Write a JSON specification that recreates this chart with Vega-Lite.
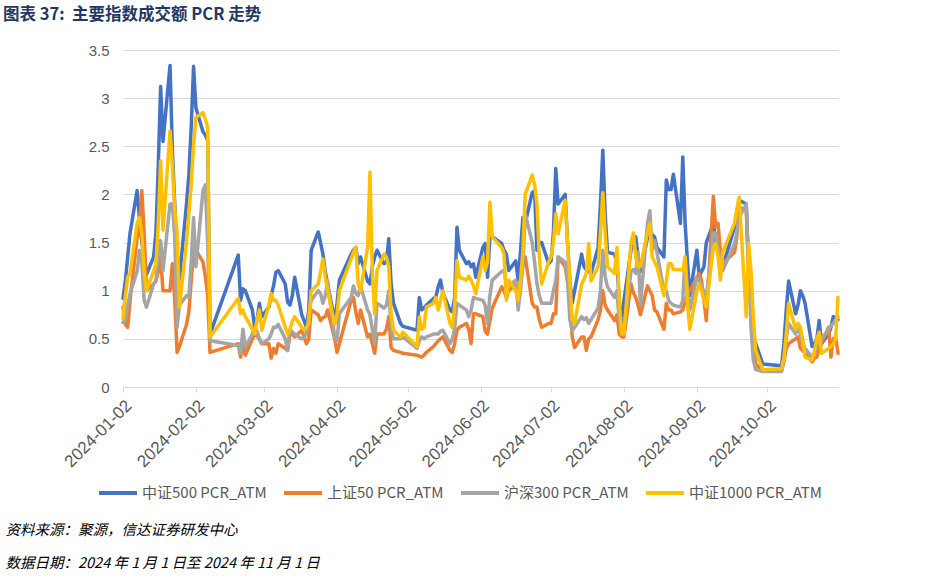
{
  "$schema": "https://vega.github.io/schema/vega-lite/v6.json",
  "width": 715,
  "height": 337,
  "autosize": {"type": "none"},
  "padding": {"left": 123, "top": 50, "right": 92, "bottom": 195},
  "background": "white",
  "title": {
    "text": "图表 37:\u00a0\u00a0主要指数成交额 PCR 走势",
    "anchor": "start",
    "frame": "group",
    "dx": -120,
    "dy": -20,
    "offset": 0,
    "fontSize": 16.5,
    "fontWeight": "bold",
    "color": "#1F3864",
    "font": "Noto Sans CJK SC"
  },
  "config": {"view": {"stroke": null}},
  "data": {"values": [
{"d":"2024-01-02","zz500":0.92,"sz50":0.83,"hs300":0.67,"zz1000":0.71},
{"d":"2024-01-03","zz500":1.1,"sz50":0.65,"hs300":0.7,"zz1000":0.95},
{"d":"2024-01-04","zz500":1.35,"sz50":0.62,"hs300":0.85,"zz1000":1.14},
{"d":"2024-01-05","zz500":1.6,"sz50":0.9,"hs300":0.97,"zz1000":1.18},
{"d":"2024-01-08","zz500":2.04,"sz50":1.55,"hs300":1.2,"zz1000":1.7},
{"d":"2024-01-09","zz500":1.75,"sz50":1.65,"hs300":1.42,"zz1000":1.76},
{"d":"2024-01-10","zz500":1.5,"sz50":2.04,"hs300":1.3,"zz1000":1.59},
{"d":"2024-01-11","zz500":1.35,"sz50":1.6,"hs300":0.9,"zz1000":1.2},
{"d":"2024-01-12","zz500":1.17,"sz50":1.0,"hs300":0.83,"zz1000":1.0},
{"d":"2024-01-15","zz500":1.35,"sz50":1.07,"hs300":1.07,"zz1000":1.2},
{"d":"2024-01-16","zz500":1.6,"sz50":1.1,"hs300":1.1,"zz1000":1.28},
{"d":"2024-01-17","zz500":2.3,"sz50":1.2,"hs300":1.4,"zz1000":1.7},
{"d":"2024-01-18","zz500":3.12,"sz50":1.35,"hs300":1.52,"zz1000":2.35},
{"d":"2024-01-19","zz500":2.55,"sz50":1.0,"hs300":1.21,"zz1000":1.63},
{"d":"2024-01-22","zz500":3.34,"sz50":1.0,"hs300":1.9,"zz1000":2.66},
{"d":"2024-01-23","zz500":2.45,"sz50":1.28,"hs300":1.9,"zz1000":2.3},
{"d":"2024-01-24","zz500":1.9,"sz50":0.9,"hs300":1.56,"zz1000":1.85},
{"d":"2024-01-25","zz500":1.4,"sz50":0.36,"hs300":0.62,"zz1000":1.6},
{"d":"2024-01-26","zz500":1.12,"sz50":0.42,"hs300":0.85,"zz1000":0.83},
{"d":"2024-01-29","zz500":1.9,"sz50":0.65,"hs300":0.95,"zz1000":1.5},
{"d":"2024-01-30","zz500":2.2,"sz50":0.78,"hs300":0.93,"zz1000":1.8},
{"d":"2024-01-31","zz500":2.7,"sz50":1.1,"hs300":1.3,"zz1000":2.1},
{"d":"2024-02-01","zz500":3.33,"sz50":1.42,"hs300":1.76,"zz1000":2.51},
{"d":"2024-02-02","zz500":2.9,"sz50":1.42,"hs300":1.25,"zz1000":2.8},
{"d":"2024-02-05","zz500":2.65,"sz50":1.3,"hs300":2.04,"zz1000":2.85},
{"d":"2024-02-06","zz500":2.62,"sz50":1.15,"hs300":2.1,"zz1000":2.78},
{"d":"2024-02-07","zz500":2.56,"sz50":0.95,"hs300":1.5,"zz1000":2.7},
{"d":"2024-02-08","zz500":0.55,"sz50":0.36,"hs300":0.48,"zz1000":0.52},
{"d":"2024-02-20","zz500":1.37,"sz50":0.45,"hs300":0.43,"zz1000":0.92},
{"d":"2024-02-21","zz500":0.9,"sz50":0.31,"hs300":0.35,"zz1000":0.76},
{"d":"2024-02-22","zz500":1.02,"sz50":0.45,"hs300":0.6,"zz1000":0.8},
{"d":"2024-02-23","zz500":1.0,"sz50":0.33,"hs300":0.41,"zz1000":0.73},
{"d":"2024-02-26","zz500":0.8,"sz50":0.5,"hs300":0.55,"zz1000":0.6},
{"d":"2024-02-27","zz500":0.62,"sz50":0.55,"hs300":0.62,"zz1000":0.55},
{"d":"2024-02-28","zz500":0.7,"sz50":0.53,"hs300":0.58,"zz1000":0.7},
{"d":"2024-02-29","zz500":0.87,"sz50":0.5,"hs300":0.5,"zz1000":0.8},
{"d":"2024-03-01","zz500":0.73,"sz50":0.45,"hs300":0.45,"zz1000":0.59},
{"d":"2024-03-04","zz500":0.83,"sz50":0.45,"hs300":0.5,"zz1000":0.85},
{"d":"2024-03-05","zz500":0.95,"sz50":0.3,"hs300":0.55,"zz1000":0.97},
{"d":"2024-03-06","zz500":1.05,"sz50":0.4,"hs300":0.62,"zz1000":0.9},
{"d":"2024-03-07","zz500":1.19,"sz50":0.35,"hs300":0.62,"zz1000":0.9},
{"d":"2024-03-08","zz500":1.21,"sz50":0.45,"hs300":0.65,"zz1000":0.85},
{"d":"2024-03-11","zz500":1.07,"sz50":0.4,"hs300":0.5,"zz1000":0.62},
{"d":"2024-03-12","zz500":0.88,"sz50":0.38,"hs300":0.38,"zz1000":0.55},
{"d":"2024-03-13","zz500":0.85,"sz50":0.55,"hs300":0.6,"zz1000":0.6},
{"d":"2024-03-14","zz500":0.95,"sz50":0.55,"hs300":0.57,"zz1000":0.68},
{"d":"2024-03-15","zz500":1.14,"sz50":0.52,"hs300":0.55,"zz1000":0.73},
{"d":"2024-03-18","zz500":0.75,"sz50":0.59,"hs300":0.5,"zz1000":0.62},
{"d":"2024-03-19","zz500":0.69,"sz50":0.52,"hs300":0.52,"zz1000":0.59},
{"d":"2024-03-20","zz500":0.62,"sz50":0.45,"hs300":0.55,"zz1000":0.62},
{"d":"2024-03-21","zz500":0.8,"sz50":0.5,"hs300":0.75,"zz1000":0.66},
{"d":"2024-03-22","zz500":1.42,"sz50":0.8,"hs300":0.9,"zz1000":1.0},
{"d":"2024-03-25","zz500":1.61,"sz50":0.75,"hs300":1.0,"zz1000":1.07},
{"d":"2024-03-26","zz500":1.5,"sz50":0.69,"hs300":0.97,"zz1000":1.2},
{"d":"2024-03-27","zz500":1.38,"sz50":0.72,"hs300":0.87,"zz1000":1.33},
{"d":"2024-03-28","zz500":1.2,"sz50":0.73,"hs300":0.95,"zz1000":1.15},
{"d":"2024-03-29","zz500":1.07,"sz50":0.8,"hs300":1.1,"zz1000":1.0},
{"d":"2024-04-01","zz500":0.69,"sz50":0.5,"hs300":0.52,"zz1000":0.65},
{"d":"2024-04-02","zz500":0.87,"sz50":0.36,"hs300":0.48,"zz1000":0.75},
{"d":"2024-04-03","zz500":1.11,"sz50":0.45,"hs300":0.76,"zz1000":1.0},
{"d":"2024-04-08","zz500":1.38,"sz50":0.9,"hs300":0.93,"zz1000":1.33},
{"d":"2024-04-09","zz500":1.42,"sz50":0.93,"hs300":1.05,"zz1000":1.4},
{"d":"2024-04-10","zz500":1.45,"sz50":0.78,"hs300":0.97,"zz1000":1.45},
{"d":"2024-04-11","zz500":1.28,"sz50":0.66,"hs300":0.95,"zz1000":1.07},
{"d":"2024-04-12","zz500":1.35,"sz50":0.8,"hs300":1.05,"zz1000":1.0},
{"d":"2024-04-15","zz500":1.1,"sz50":0.52,"hs300":0.8,"zz1000":1.45},
{"d":"2024-04-16","zz500":1.07,"sz50":0.55,"hs300":0.75,"zz1000":2.23},
{"d":"2024-04-17","zz500":1.25,"sz50":0.45,"hs300":0.6,"zz1000":1.2},
{"d":"2024-04-18","zz500":1.35,"sz50":0.35,"hs300":0.45,"zz1000":0.76},
{"d":"2024-04-19","zz500":1.42,"sz50":0.55,"hs300":0.87,"zz1000":1.21},
{"d":"2024-04-22","zz500":1.28,"sz50":0.55,"hs300":0.82,"zz1000":1.38},
{"d":"2024-04-23","zz500":1.3,"sz50":0.6,"hs300":0.85,"zz1000":1.35},
{"d":"2024-04-24","zz500":1.54,"sz50":0.73,"hs300":1.0,"zz1000":1.25},
{"d":"2024-04-25","zz500":1.07,"sz50":0.41,"hs300":0.62,"zz1000":0.76},
{"d":"2024-04-26","zz500":0.87,"sz50":0.38,"hs300":0.5,"zz1000":0.59},
{"d":"2024-04-29","zz500":0.66,"sz50":0.36,"hs300":0.5,"zz1000":0.52},
{"d":"2024-04-30","zz500":0.63,"sz50":0.35,"hs300":0.52,"zz1000":0.57},
{"d":"2024-05-06","zz500":0.59,"sz50":0.33,"hs300":0.4,"zz1000":0.42},
{"d":"2024-05-07","zz500":0.93,"sz50":0.32,"hs300":0.48,"zz1000":0.73},
{"d":"2024-05-08","zz500":0.8,"sz50":0.31,"hs300":0.52,"zz1000":0.6},
{"d":"2024-05-09","zz500":0.82,"sz50":0.33,"hs300":0.5,"zz1000":0.62},
{"d":"2024-05-10","zz500":0.85,"sz50":0.36,"hs300":0.52,"zz1000":0.83},
{"d":"2024-05-13","zz500":0.92,"sz50":0.42,"hs300":0.55,"zz1000":0.87},
{"d":"2024-05-14","zz500":0.93,"sz50":0.45,"hs300":0.55,"zz1000":0.93},
{"d":"2024-05-15","zz500":1.04,"sz50":0.48,"hs300":0.55,"zz1000":0.8},
{"d":"2024-05-16","zz500":1.11,"sz50":0.5,"hs300":0.58,"zz1000":0.9},
{"d":"2024-05-17","zz500":0.98,"sz50":0.52,"hs300":0.59,"zz1000":1.0},
{"d":"2024-05-20","zz500":0.8,"sz50":0.38,"hs300":0.45,"zz1000":0.66},
{"d":"2024-05-21","zz500":0.78,"sz50":0.36,"hs300":0.5,"zz1000":0.62},
{"d":"2024-05-22","zz500":0.93,"sz50":0.45,"hs300":0.6,"zz1000":0.83},
{"d":"2024-05-23","zz500":1.66,"sz50":0.59,"hs300":0.87,"zz1000":1.31},
{"d":"2024-05-24","zz500":1.42,"sz50":0.62,"hs300":0.85,"zz1000":1.14},
{"d":"2024-05-27","zz500":1.28,"sz50":0.66,"hs300":0.8,"zz1000":1.11},
{"d":"2024-05-28","zz500":1.3,"sz50":0.6,"hs300":0.73,"zz1000":1.15},
{"d":"2024-05-29","zz500":1.25,"sz50":0.45,"hs300":0.8,"zz1000":1.11},
{"d":"2024-05-30","zz500":1.28,"sz50":0.76,"hs300":0.93,"zz1000":1.05},
{"d":"2024-05-31","zz500":1.14,"sz50":0.76,"hs300":0.92,"zz1000":0.97},
{"d":"2024-06-03","zz500":1.45,"sz50":0.73,"hs300":0.9,"zz1000":1.35},
{"d":"2024-06-04","zz500":1.49,"sz50":0.58,"hs300":0.85,"zz1000":1.21},
{"d":"2024-06-05","zz500":1.14,"sz50":0.55,"hs300":0.66,"zz1000":1.3},
{"d":"2024-06-06","zz500":1.56,"sz50":0.69,"hs300":0.95,"zz1000":1.92},
{"d":"2024-06-07","zz500":1.56,"sz50":0.82,"hs300":1.11,"zz1000":1.56},
{"d":"2024-06-11","zz500":1.49,"sz50":1.04,"hs300":1.2,"zz1000":1.45},
{"d":"2024-06-12","zz500":1.42,"sz50":1.0,"hs300":1.21,"zz1000":1.38},
{"d":"2024-06-13","zz500":1.38,"sz50":0.93,"hs300":1.07,"zz1000":0.9},
{"d":"2024-06-14","zz500":1.21,"sz50":1.0,"hs300":1.05,"zz1000":1.11},
{"d":"2024-06-17","zz500":1.31,"sz50":1.07,"hs300":1.11,"zz1000":1.0},
{"d":"2024-06-18","zz500":1.11,"sz50":1.0,"hs300":0.8,"zz1000":0.9},
{"d":"2024-06-19","zz500":1.4,"sz50":1.1,"hs300":1.0,"zz1000":1.1},
{"d":"2024-06-20","zz500":1.76,"sz50":1.28,"hs300":1.25,"zz1000":1.4},
{"d":"2024-06-21","zz500":1.7,"sz50":1.35,"hs300":1.8,"zz1000":2.0},
{"d":"2024-06-24","zz500":2.02,"sz50":0.87,"hs300":1.5,"zz1000":2.2},
{"d":"2024-06-25","zz500":2.04,"sz50":0.83,"hs300":1.3,"zz1000":2.1},
{"d":"2024-06-26","zz500":1.42,"sz50":0.83,"hs300":1.07,"zz1000":1.9},
{"d":"2024-06-27","zz500":1.5,"sz50":0.7,"hs300":0.95,"zz1000":1.35},
{"d":"2024-06-28","zz500":1.5,"sz50":0.62,"hs300":0.87,"zz1000":1.07},
{"d":"2024-07-01","zz500":1.28,"sz50":0.66,"hs300":0.87,"zz1000":1.3},
{"d":"2024-07-02","zz500":1.31,"sz50":0.66,"hs300":0.87,"zz1000":1.35},
{"d":"2024-07-03","zz500":1.6,"sz50":0.76,"hs300":1.0,"zz1000":1.5},
{"d":"2024-07-04","zz500":2.27,"sz50":0.76,"hs300":1.1,"zz1000":1.8},
{"d":"2024-07-05","zz500":1.9,"sz50":1.35,"hs300":1.35,"zz1000":1.59},
{"d":"2024-07-08","zz500":2.0,"sz50":1.25,"hs300":1.3,"zz1000":1.94},
{"d":"2024-07-09","zz500":1.5,"sz50":1.1,"hs300":1.11,"zz1000":1.5},
{"d":"2024-07-10","zz500":1.1,"sz50":0.9,"hs300":0.7,"zz1000":1.1},
{"d":"2024-07-11","zz500":0.87,"sz50":0.52,"hs300":0.59,"zz1000":0.7},
{"d":"2024-07-12","zz500":1.0,"sz50":0.41,"hs300":0.62,"zz1000":0.66},
{"d":"2024-07-15","zz500":1.38,"sz50":0.52,"hs300":0.73,"zz1000":1.07},
{"d":"2024-07-16","zz500":1.25,"sz50":0.52,"hs300":0.7,"zz1000":1.12},
{"d":"2024-07-17","zz500":1.22,"sz50":0.38,"hs300":0.72,"zz1000":1.18},
{"d":"2024-07-18","zz500":1.2,"sz50":0.5,"hs300":0.66,"zz1000":1.49},
{"d":"2024-07-19","zz500":1.18,"sz50":0.52,"hs300":0.7,"zz1000":1.1},
{"d":"2024-07-22","zz500":1.45,"sz50":0.7,"hs300":0.82,"zz1000":1.25},
{"d":"2024-07-23","zz500":1.9,"sz50":0.8,"hs300":1.0,"zz1000":1.6},
{"d":"2024-07-24","zz500":2.46,"sz50":1.0,"hs300":1.42,"zz1000":2.02},
{"d":"2024-07-25","zz500":1.8,"sz50":0.85,"hs300":1.15,"zz1000":1.6},
{"d":"2024-07-26","zz500":1.4,"sz50":0.8,"hs300":1.04,"zz1000":1.25},
{"d":"2024-07-29","zz500":1.38,"sz50":0.69,"hs300":0.93,"zz1000":1.18},
{"d":"2024-07-30","zz500":1.28,"sz50":0.75,"hs300":1.0,"zz1000":1.45},
{"d":"2024-07-31","zz500":0.9,"sz50":0.55,"hs300":0.7,"zz1000":0.9},
{"d":"2024-08-01","zz500":0.62,"sz50":0.52,"hs300":0.59,"zz1000":0.55},
{"d":"2024-08-02","zz500":0.9,"sz50":0.52,"hs300":0.62,"zz1000":0.55},
{"d":"2024-08-05","zz500":1.42,"sz50":1.07,"hs300":1.2,"zz1000":1.5},
{"d":"2024-08-06","zz500":1.5,"sz50":0.98,"hs300":1.22,"zz1000":1.6},
{"d":"2024-08-07","zz500":1.56,"sz50":0.93,"hs300":1.18,"zz1000":1.35},
{"d":"2024-08-08","zz500":1.35,"sz50":0.85,"hs300":1.4,"zz1000":1.25},
{"d":"2024-08-09","zz500":1.2,"sz50":0.75,"hs300":0.85,"zz1000":1.25},
{"d":"2024-08-12","zz500":1.55,"sz50":1.05,"hs300":1.7,"zz1000":1.6},
{"d":"2024-08-13","zz500":1.63,"sz50":1.0,"hs300":1.83,"zz1000":1.7},
{"d":"2024-08-14","zz500":1.58,"sz50":0.95,"hs300":1.42,"zz1000":1.35},
{"d":"2024-08-15","zz500":1.56,"sz50":0.8,"hs300":1.52,"zz1000":1.3},
{"d":"2024-08-16","zz500":1.45,"sz50":0.78,"hs300":1.4,"zz1000":1.25},
{"d":"2024-08-19","zz500":1.35,"sz50":0.6,"hs300":1.0,"zz1000":0.95},
{"d":"2024-08-20","zz500":2.15,"sz50":0.87,"hs300":1.0,"zz1000":1.1},
{"d":"2024-08-21","zz500":2.05,"sz50":0.8,"hs300":0.9,"zz1000":1.28},
{"d":"2024-08-22","zz500":2.05,"sz50":0.8,"hs300":0.87,"zz1000":1.28},
{"d":"2024-08-23","zz500":2.21,"sz50":0.76,"hs300":0.85,"zz1000":1.22},
{"d":"2024-08-26","zz500":1.7,"sz50":0.78,"hs300":0.83,"zz1000":1.22},
{"d":"2024-08-27","zz500":2.39,"sz50":0.8,"hs300":0.9,"zz1000":1.21},
{"d":"2024-08-28","zz500":1.7,"sz50":0.9,"hs300":1.35,"zz1000":1.35},
{"d":"2024-08-29","zz500":1.3,"sz50":0.95,"hs300":1.0,"zz1000":0.87},
{"d":"2024-08-30","zz500":0.95,"sz50":1.0,"hs300":0.8,"zz1000":0.6},
{"d":"2024-09-02","zz500":1.42,"sz50":1.14,"hs300":1.14,"zz1000":1.0},
{"d":"2024-09-03","zz500":1.14,"sz50":1.18,"hs300":1.1,"zz1000":1.07},
{"d":"2024-09-04","zz500":1.2,"sz50":1.1,"hs300":1.05,"zz1000":1.0},
{"d":"2024-09-05","zz500":1.25,"sz50":0.9,"hs300":0.98,"zz1000":0.9},
{"d":"2024-09-06","zz500":1.5,"sz50":0.69,"hs300":0.93,"zz1000":0.83},
{"d":"2024-09-09","zz500":1.7,"sz50":1.98,"hs300":1.6,"zz1000":1.45},
{"d":"2024-09-10","zz500":1.52,"sz50":1.66,"hs300":1.6,"zz1000":1.49},
{"d":"2024-09-11","zz500":1.42,"sz50":1.7,"hs300":1.42,"zz1000":1.35},
{"d":"2024-09-12","zz500":1.21,"sz50":1.4,"hs300":1.3,"zz1000":1.11},
{"d":"2024-09-13","zz500":1.25,"sz50":1.28,"hs300":1.21,"zz1000":1.4},
{"d":"2024-09-18","zz500":1.66,"sz50":1.4,"hs300":1.49,"zz1000":1.7},
{"d":"2024-09-19","zz500":1.8,"sz50":1.56,"hs300":1.6,"zz1000":1.85},
{"d":"2024-09-20","zz500":1.94,"sz50":1.87,"hs300":1.76,"zz1000":1.97},
{"d":"2024-09-23","zz500":1.9,"sz50":1.83,"hs300":1.9,"zz1000":0.73},
{"d":"2024-09-24","zz500":1.14,"sz50":1.3,"hs300":1.25,"zz1000":1.49},
{"d":"2024-09-25","zz500":1.14,"sz50":1.07,"hs300":0.62,"zz1000":1.21},
{"d":"2024-09-26","zz500":0.52,"sz50":0.45,"hs300":0.28,"zz1000":0.73},
{"d":"2024-09-27","zz500":0.45,"sz50":0.24,"hs300":0.18,"zz1000":0.38},
{"d":"2024-09-30","zz500":0.24,"sz50":0.17,"hs300":0.16,"zz1000":0.18},
{"d":"2024-10-08","zz500":0.22,"sz50":0.17,"hs300":0.16,"zz1000":0.19},
{"d":"2024-10-09","zz500":0.45,"sz50":0.26,"hs300":0.3,"zz1000":0.3},
{"d":"2024-10-10","zz500":0.8,"sz50":0.4,"hs300":0.5,"zz1000":0.55},
{"d":"2024-10-11","zz500":1.1,"sz50":0.45,"hs300":0.66,"zz1000":0.87},
{"d":"2024-10-14","zz500":0.76,"sz50":0.5,"hs300":0.55,"zz1000":0.6},
{"d":"2024-10-15","zz500":0.85,"sz50":0.52,"hs300":0.62,"zz1000":0.66},
{"d":"2024-10-16","zz500":1.0,"sz50":0.4,"hs300":0.55,"zz1000":0.62},
{"d":"2024-10-17","zz500":0.95,"sz50":0.38,"hs300":0.45,"zz1000":0.5},
{"d":"2024-10-18","zz500":0.87,"sz50":0.35,"hs300":0.4,"zz1000":0.31},
{"d":"2024-10-21","zz500":0.42,"sz50":0.26,"hs300":0.31,"zz1000":0.28},
{"d":"2024-10-22","zz500":0.45,"sz50":0.3,"hs300":0.35,"zz1000":0.38},
{"d":"2024-10-23","zz500":0.5,"sz50":0.31,"hs300":0.42,"zz1000":0.5},
{"d":"2024-10-24","zz500":0.69,"sz50":0.4,"hs300":0.47,"zz1000":0.57},
{"d":"2024-10-25","zz500":0.45,"sz50":0.45,"hs300":0.5,"zz1000":0.35},
{"d":"2024-10-28","zz500":0.55,"sz50":0.62,"hs300":0.6,"zz1000":0.4},
{"d":"2024-10-29","zz500":0.62,"sz50":0.31,"hs300":0.63,"zz1000":0.42},
{"d":"2024-10-30","zz500":0.73,"sz50":0.5,"hs300":0.66,"zz1000":0.45},
{"d":"2024-10-31","zz500":0.72,"sz50":0.52,"hs300":0.7,"zz1000":0.5},
{"d":"2024-11-01","zz500":0.7,"sz50":0.35,"hs300":0.73,"zz1000":0.93}
  ]},
  "transform": [{"fold": ["zz500", "sz50", "hs300", "zz1000"], "as": ["k", "v"]}],
  "mark": {"type": "line", "strokeWidth": 3.5, "strokeJoin": "round", "strokeCap": "round"},
  "encoding": {
    "x": {
      "field": "d",
      "type": "temporal",
      "scale": {
        "type": "utc",
        "domain": [{"year": 2024, "month": 1, "date": 2, "utc": true}, {"year": 2024, "month": 11, "date": 1, "utc": true}],
        "nice": false
      },
      "axis": {
        "values": [
          {"year": 2024, "month": 1, "date": 2, "utc": true},
          {"year": 2024, "month": 2, "date": 2, "utc": true},
          {"year": 2024, "month": 3, "date": 2, "utc": true},
          {"year": 2024, "month": 4, "date": 2, "utc": true},
          {"year": 2024, "month": 5, "date": 2, "utc": true},
          {"year": 2024, "month": 6, "date": 2, "utc": true},
          {"year": 2024, "month": 7, "date": 2, "utc": true},
          {"year": 2024, "month": 8, "date": 2, "utc": true},
          {"year": 2024, "month": 9, "date": 2, "utc": true},
          {"year": 2024, "month": 10, "date": 2, "utc": true}
        ],
        "format": "%Y-%m-%d",
        "labelAngle": -45,
        "labelOverlap": false,
        "labelFlush": false,
        "labelBound": false,
        "labelFont": "Liberation Sans",
        "labelFontSize": 17,
        "labelColor": "#595959",
        "labelPadding": 5,
        "grid": false,
        "domainColor": "#D9D9D9",
        "tickColor": "#D9D9D9",
        "tickSize": 5,
        "title": ["资料来源：聚源，信达证券研发中心", "数据日期：2024 年 1 月 1 日至 2024 年 11 月 1 日"],
        "titleX": -118,
        "titleY": 136,
        "titleAlign": "left",
        "titleAnchor": "start",
        "titleBaseline": "top",
        "titleAngle": 0,
        "titleFont": "Noto Sans CJK SC",
        "titleFontSize": 14.5,
        "titleFontStyle": "italic",
        "titleFontWeight": "normal",
        "titleColor": "#000000",
        "titleLineHeight": 33
      }
    },
    "y": {
      "field": "v",
      "type": "quantitative",
      "scale": {"domain": [0, 3.5], "nice": false, "zero": true},
      "axis": {
        "values": [0, 0.5, 1, 1.5, 2, 2.5, 3, 3.5],
        "format": "~g",
        "grid": true,
        "gridColor": "#D9D9D9",
        "domain": false,
        "ticks": false,
        "labelFont": "Liberation Sans",
        "labelFontSize": 15,
        "labelColor": "#595959",
        "labelPadding": 14,
        "title": null
      }
    },
    "color": {
      "field": "k",
      "type": "nominal",
      "scale": {
        "domain": ["zz500", "sz50", "hs300", "zz1000"],
        "range": ["#4472C4", "#ED7D31", "#A5A5A5", "#FFC000"]
      },
      "legend": {
        "orient": "none",
        "legendX": -26,
        "legendY": 422,
        "direction": "horizontal",
        "title": null,
        "symbolType": "stroke",
        "symbolSize": 1444,
        "symbolStrokeWidth": 4,
        "labelFont": "Noto Sans CJK SC",
        "labelFontSize": 15,
        "labelColor": "#595959",
        "labelOffset": 3,
        "columnPadding": 9,
        "labelLimit": 300,
        "labelExpr": "datum.value == 'zz500' ? '中证500 PCR_ATM' : datum.value == 'sz50' ? '上证50 PCR_ATM' : datum.value == 'hs300' ? '沪深300 PCR_ATM' : '中证1000 PCR_ATM'"
      }
    }
  }
}
